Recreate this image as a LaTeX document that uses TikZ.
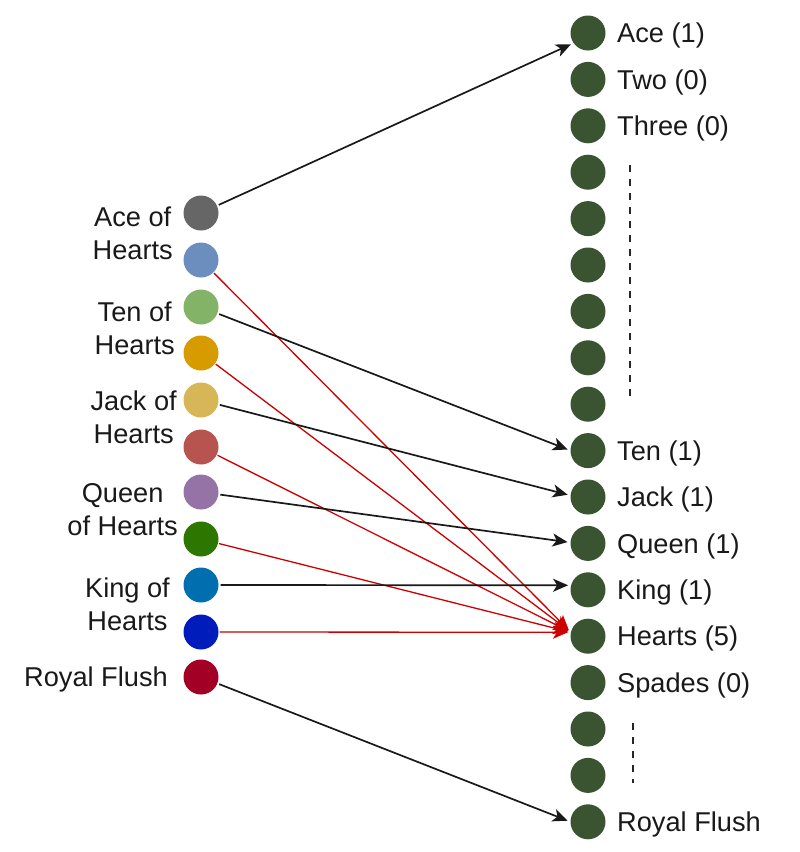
\documentclass[tikz,border=0pt]{standalone}
\usepackage{fontspec}
\setmainfont{Liberation Sans}
\usetikzlibrary{arrows.meta}
\definecolor{cA}{HTML}{666666}
\definecolor{cB}{HTML}{6C8EBF}
\definecolor{cC}{HTML}{82B366}
\definecolor{cD}{HTML}{D79B00}
\definecolor{cE}{HTML}{D6B656}
\definecolor{cF}{HTML}{B85450}
\definecolor{cG}{HTML}{9673A6}
\definecolor{cH}{HTML}{2D7600}
\definecolor{cI}{HTML}{006EAF}
\definecolor{cJ}{HTML}{001DBC}
\definecolor{cK}{HTML}{A20025}
\definecolor{rgreen}{HTML}{3A5431}
\definecolor{redline}{HTML}{CC0000}
\begin{document}
\begin{tikzpicture}[x=1pt,y=-1pt,
  dot/.style={circle,minimum size=35pt,inner sep=0pt,outer sep=0pt},
  rdot/.style={dot,fill=rgreen},
  lbl/.style={font=\fontsize{27.2}{33}\selectfont,inner sep=0pt,text=black!90},
  rlbl/.style={lbl,anchor=base west,xshift=29pt,yshift=-9.7pt},
  llbl/.style={lbl,align=center,anchor=east},
  barrow/.style={draw=black!90,line width=1.7pt,-{Stealth[length=15pt,width=13pt,inset=4pt]},shorten >=3pt,shorten <=2pt},
  rarrow/.style={draw=redline,line width=1.3pt,-{Stealth[length=15pt,width=13pt,inset=4pt]},shorten >=3pt,shorten <=1pt},
  dots/.style={draw=black!85,line width=2.2pt,dash pattern=on 7pt off 7pt}
]
\useasboundingbox (0,0) rectangle (800,852);

% right column
\foreach \i in {1,...,18}
  \node[rdot] (R\i) at (588,{33+46.4*(\i-1)}) {};

\node[rlbl] (tR1) at (R1.center) {Ace (1)};
\node[rlbl] (tR2) at (R2.center) {Two (0)};
\node[rlbl] (tR3) at (R3.center) {Three (0)};
\node[rlbl] (tR10) at (R10.center) {Ten (1)};
\node[rlbl] (tR11) at (R11.center) {Jack (1)};
\node[rlbl] (tR12) at (R12.center) {Queen (1)};
\node[rlbl] (tR13) at (R13.center) {King (1)};
\node[rlbl] (tR14) at (R14.center) {Hearts (5)};
\node[rlbl] (tR15) at (R15.center) {Spades (0)};
\node[rlbl] (tR18) at (R18.center) {Royal Flush};

\coordinate (d1a) at (630,165);
\coordinate (d1b) at (630,397);
\coordinate (d2a) at (633,723);
\coordinate (d2b) at (633,783);
\draw[dots] (d1a) -- (d1b);
\draw[dots] (d2a) -- (d2b);

% left column
\node[dot,fill=cA] (L1) at (201,213) {};
\node[dot,fill=cB] (L2) at (201,260) {};
\node[dot,fill=cC] (L3) at (201,307) {};
\node[dot,fill=cD] (L4) at (201,353) {};
\node[dot,fill=cE] (L5) at (201,400) {};
\node[dot,fill=cF] (L6) at (201,447) {};
\node[dot,fill=cG] (L7) at (201,492) {};
\node[dot,fill=cH] (L8) at (201,539) {};
\node[dot,fill=cI] (L9) at (201,585) {};
\node[dot,fill=cJ] (L10) at (201,632) {};
\node[dot,fill=cK] (L11) at (201,677) {};

\node[llbl] (tA) at (173,233) {Ace of\\Hearts};
\node[llbl] (tT) at (175,328) {Ten of\\Hearts};
\node[llbl] (tJ) at (177,417) {Jack of\\Hearts};
\node[llbl] (tQ) at (178,510) {Queen\\of Hearts};
\node[llbl] (tK) at (170,604) {King of\\Hearts};
\node[lbl,anchor=base east,yshift=-9.7pt] (tRF) at (168,677) {Royal Flush};

% connectors
\draw[barrow] (L1) -- (R1.215);
\draw[rarrow] (L2) -- (R14.167);
\draw[barrow] (L3) -- (R10.180);
\draw[rarrow] (L4) -- (R14.167);
\draw[barrow] (L5) -- (R11.175);
\draw[rarrow] (L6) -- (R14.167);
\draw[barrow] (L7) -- (R12.177);
\draw[rarrow] (L8) -- (R14.167);
\draw[barrow] (L9) -- (R13.165);
\draw[rarrow] (L10) -- (R14.167);
\draw[barrow] (L11) -- (R18.180);
\end{tikzpicture}
\end{document}
